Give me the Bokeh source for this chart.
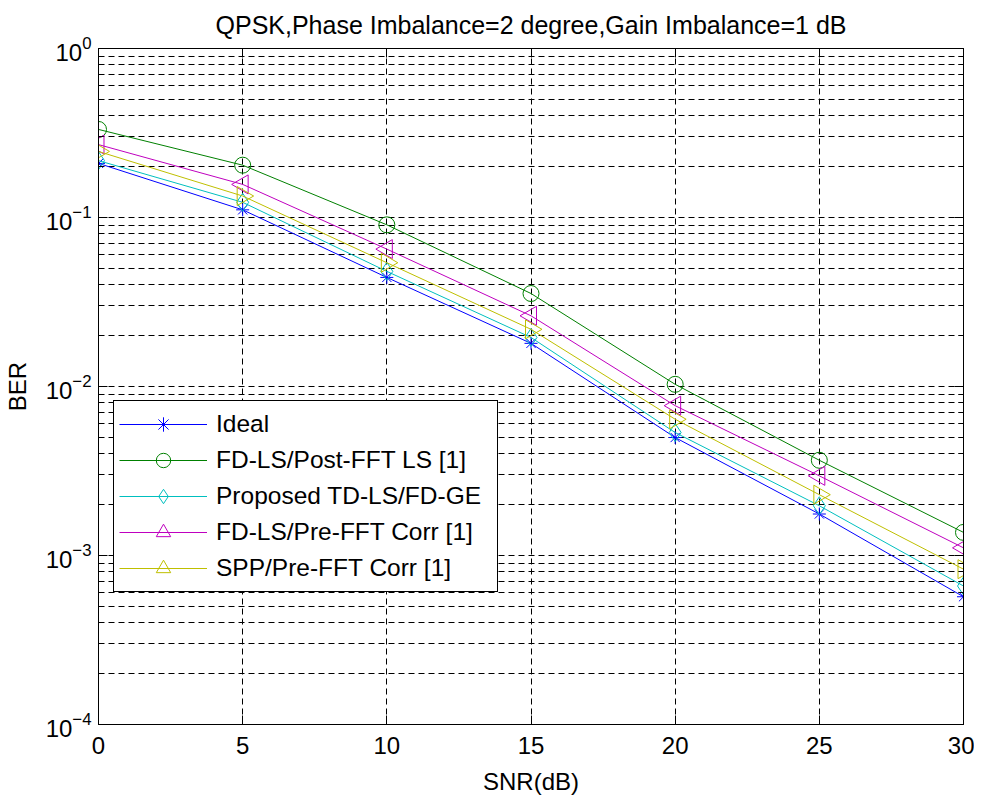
import math
from bokeh.plotting import figure
from bokeh.models import (FixedTicker, LogAxis, LinearAxis, Legend, LegendItem,
                          CustomJSTickFormatter, Range1d)
from bokeh.embed import file_html
from bokeh.resources import INLINE

# ---- data ----
snr = [0, 5, 10, 15, 20, 25, 30]
ideal = [0.209, 0.111, 0.0442, 0.0180, 0.00499, 0.00176, 0.00057]
fdls_post = [0.332, 0.204, 0.0905, 0.0355, 0.0103, 0.00366, 0.00137]
proposed = [0.217, 0.123, 0.0480, 0.0195, 0.00534, 0.00197, 0.00066]
fdls_pre = [0.270, 0.157, 0.0650, 0.0262, 0.0077, 0.00296, 0.00111]
spp_pre = [0.246, 0.134, 0.0540, 0.0218, 0.0064, 0.00229, 0.00083]

labels = ["Ideal", "FD-LS/Post-FFT LS [1]", "Proposed TD-LS/FD-GE",
          "FD-LS/Pre-FFT Corr [1]", "SPP/Pre-FFT Corr [1]"]
x_ticks = [0, 5, 10, 15, 20, 25, 30]
y_major = [1e-4, 1e-3, 1e-2, 1e-1, 1e0]
y_minor = [m * d for d in [1e-4, 1e-3, 1e-2, 1e-1] for m in range(2, 10)]

FONT = "Liberation Sans"

p = figure(frame_width=865, frame_height=676,
           x_range=Range1d(0, 30), y_range=Range1d(1e-4, 1),
           y_axis_type="log", output_backend="svg", toolbar_location=None,
           min_border_left=92, min_border_right=11, min_border_top=48,
           min_border_bottom=64,
           title="QPSK,Phase Imbalance=2 degree,Gain Imbalance=1 dB")

p.title.text_font = FONT
p.title.text_font_size = "25px"
p.title.text_font_style = "normal"
p.title.align = "center"
p.title.vertical_align = "top"
p.title.text_color = "black"
p.title.standoff = 15

p.outline_line_color = "black"
p.outline_line_width = 1
p.outline_line_alpha = 1

xt = FixedTicker(ticks=x_ticks)
yt = FixedTicker(ticks=y_major, minor_ticks=y_minor)

xa = p.xaxis[0]
xa.ticker = xt
xa.axis_label = "SNR(dB)"
ya = p.yaxis[0]
ya.ticker = yt
ya.axis_label = "BER"

for ax in (xa, ya):
    ax.axis_label_text_font = FONT
    ax.axis_label_text_font_size = "24px"
    ax.axis_label_text_font_style = "normal"
    ax.axis_label_text_color = "black"
    ax.major_label_text_font = FONT
    ax.major_label_text_font_size = "24px"
    ax.major_label_text_color = "black"
    ax.axis_line_color = "black"
    ax.major_tick_in = 9
    ax.major_tick_out = 0
    ax.minor_tick_in = 5
    ax.minor_tick_out = 0
    ax.major_tick_line_color = "black"
    ax.minor_tick_line_color = "black"

xa.major_label_standoff = 12
xa.axis_label_standoff = 11
xa.minor_tick_line_color = None
ya.major_label_standoff = 7
ya.axis_label_standoff = 12

blank = CustomJSTickFormatter(code="return ''")
top = LinearAxis(ticker=xt, formatter=blank, major_tick_in=9, major_tick_out=0,
                 minor_tick_line_color=None, axis_line_color="black",
                 major_label_standoff=0)
right = LogAxis(ticker=yt, formatter=blank, major_tick_in=9, major_tick_out=0,
                minor_tick_in=5, minor_tick_out=0, axis_line_color="black",
                major_label_standoff=0)
p.add_layout(top, "above")
p.add_layout(right, "right")

for g in (p.xgrid[0], p.ygrid[0]):
    g.grid_line_color = "black"
    g.grid_line_dash = "6 4"
    g.grid_line_width = 1
    g.grid_line_alpha = 1
p.xgrid[0].ticker = xt
p.ygrid[0].ticker = yt
p.ygrid[0].minor_grid_line_color = "black"
p.ygrid[0].minor_grid_line_dash = "6 4"
p.ygrid[0].minor_grid_line_alpha = 1

series = [ideal, fdls_post, proposed, fdls_pre, spp_pre]
colors = ["#0000FF", "#008000", "#00BFBF", "#BF00BF", "#BFBF00"]
markers = ["asterisk", "circle", "diamond", "triangle", "triangle"]
sizes = [13, 16, 18, 19, 19]
angles = [0, 0, 0, math.pi / 2, -math.pi / 2]

items = []
for ys, c, m, s, a, lab in zip(series, colors, markers, sizes, angles, labels):
    lr = p.line(snr, ys, line_color=c, line_width=1)
    sr = p.scatter(snr, ys, marker=m, size=s, angle=a, line_color=c,
                   fill_color=None, line_width=1)
    items.append(LegendItem(label=lab, renderers=[lr, sr]))

legend = Legend(items=items, location=(15, 132))
legend.label_text_font = FONT
legend.label_text_font_size = "24.5px"
legend.label_text_color = "black"
legend.border_line_color = "black"
legend.border_line_width = 1
legend.border_line_alpha = 1
legend.background_fill_color = "white"
legend.background_fill_alpha = 1
legend.glyph_width = 88
legend.glyph_height = 36
legend.label_height = 20
legend.label_width = 276
legend.label_standoff = 9
legend.spacing = 0
legend.padding = 5
legend.margin = 0
p.add_layout(legend, "center")

open("out.html", "w").write(file_html(p, INLINE))
